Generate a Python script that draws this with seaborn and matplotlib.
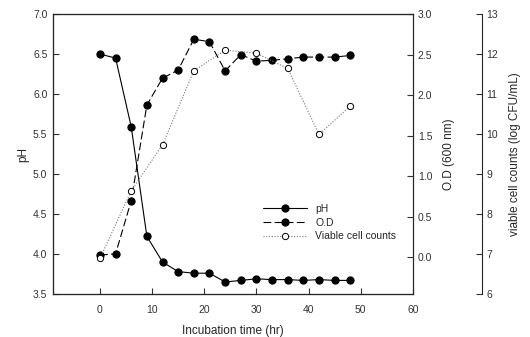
import numpy as np
import pandas as pd
import matplotlib
matplotlib.use("Agg")
import matplotlib.pyplot as plt
import seaborn as sns

# Dados
time_hr = [0, 3, 6, 9, 12, 15, 18, 21, 24, 27, 30, 33, 36, 39, 42, 45, 48]
ph_values = [6.50, 6.45, 5.59, 4.22, 3.90, 3.78, 3.76, 3.76, 3.65, 3.67, 3.69,
             3.68, 3.68, 3.67, 3.68, 3.67, 3.67]
od_values = [0.03, 0.045, 0.70, 1.88, 2.21, 2.31, 2.69, 2.66, 2.30, 2.50, 2.42,
             2.43, 2.45, 2.47, 2.47, 2.47, 2.49]
cell_time = [0, 6, 12, 18, 24, 30, 36, 42, 48]
cell_counts = [6.89, 8.58, 9.73, 11.58, 12.10, 12.02, 11.64, 9.99, 10.70]

df = pd.DataFrame({'time': time_hr, 'pH': ph_values, 'OD': od_values})
df_cell = pd.DataFrame({'time': cell_time, 'cells': cell_counts})

sns.set_style("ticks")
plt.rcParams['font.family'] = ['Liberation Sans', 'DejaVu Sans']
plt.rcParams['font.size'] = 8
plt.rcParams['xtick.direction'] = 'in'
plt.rcParams['ytick.direction'] = 'in'

fig = plt.figure(figsize=(5.3, 3.37), dpi=100)
ax = fig.add_axes([0.1, 0.1276, 0.679, 0.8306])
ax2 = ax.twinx()
ax3 = ax.twinx()

lw = 0.8
sns.lineplot(data=df, x='time', y='pH', ax=ax, color='black', linewidth=lw,
             marker='o', markersize=5.2, markeredgecolor='black',
             markerfacecolor='black', label='pH', legend=False)
sns.lineplot(data=df, x='time', y='OD', ax=ax2, color='black', linewidth=lw,
             linestyle=(0, (7, 3)), marker='o', markersize=5.2,
             markeredgecolor='black', markerfacecolor='black', label='O.D',
             legend=False)
sns.lineplot(data=df_cell, x='time', y='cells', ax=ax3, color='#777777',
             linewidth=lw, linestyle=(0, (1, 1.5)), marker='o', markersize=4.5,
             markeredgecolor='black', markerfacecolor='white',
             markeredgewidth=0.7, label='Viable cell counts', legend=False)

ax.set_xlim(-9, 60)
ax.set_ylim(3.5, 7.0)
ax.set_xticks([0, 10, 20, 30, 40, 50, 60])
ax.set_yticks(np.arange(3.5, 7.01, 0.5))
ax.yaxis.set_major_formatter(matplotlib.ticker.FormatStrFormatter('%.1f'))
ax.set_xlabel('Incubation time (hr)', fontsize=8.5, labelpad=7)
ax.set_ylabel('pH', fontsize=8.5, labelpad=3)

ax2.set_ylim(-0.45, 3.0)
ax2.set_yticks(np.arange(0, 3.01, 0.5))
ax2.yaxis.set_major_formatter(matplotlib.ticker.FormatStrFormatter('%.1f'))
ax2.set_ylabel('O.D (600 nm)', fontsize=8.5, labelpad=8)

ax3.set_ylim(6, 13)
ax3.set_yticks(range(6, 14))
ax3.spines['right'].set_position(('axes', 1.191))
ax3.set_ylabel('viable cell counts (log CFU/mL)', fontsize=8.5, labelpad=8)

for a in (ax, ax2, ax3):
    a.tick_params(labelsize=7.5, colors='#333333', length=4, width=0.8,
                  direction='in')
    for s in a.spines.values():
        s.set_linewidth(0.8)
ax.tick_params(axis='x', pad=8)
ax.tick_params(axis='y', pad=4)

handles = []
for a in (ax, ax2, ax3):
    handles += a.get_lines()
leg = ax.legend(handles=handles, labels=['pH', 'O.D', 'Viable cell counts'],
                loc='upper left', bbox_to_anchor=(0.57, 0.34), frameon=False,
                fontsize=7.5, handlelength=4.2, handletextpad=0.8,
                labelspacing=0.35, borderpad=0)

fig.savefig('out.png', dpi=100)
